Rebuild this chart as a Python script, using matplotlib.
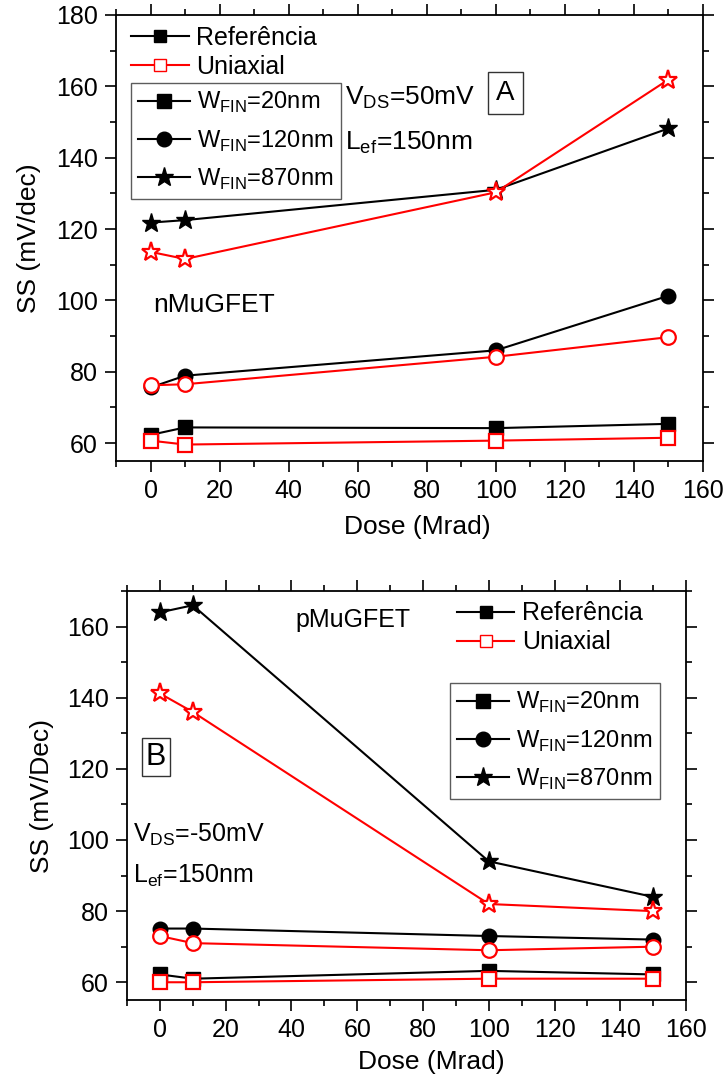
import matplotlib
matplotlib.use("Agg")
import matplotlib.pyplot as plt
from matplotlib.ticker import MultipleLocator
from matplotlib.lines import Line2D

plt.rcParams['font.family'] = ['Liberation Sans', 'DejaVu Sans']
plt.rcParams['mathtext.fontset'] = 'custom'
plt.rcParams['mathtext.rm'] = 'Liberation Sans'

# dose points (Mrad)
dose = [0, 10, 100, 150]

# nMuGFET (panel A)
n_ref_20 = [62.3, 64.4, 64.2, 65.4]
n_uni_20 = [60.7, 59.6, 60.7, 61.5]
n_ref_120 = [75.6, 78.9, 86.0, 101.3]
n_uni_120 = [76.2, 76.5, 84.2, 89.7]
n_ref_870 = [121.8, 122.5, 131.0, 148.2]
n_uni_870 = [113.6, 111.6, 130.3, 161.9]

# pMuGFET (panel B)
p_ref_20 = [62.2, 61.0, 63.2, 62.2]
p_uni_20 = [60.0, 60.0, 61.0, 61.0]
p_ref_120 = [75.1, 75.1, 73.0, 72.0]
p_uni_120 = [73.0, 71.0, 69.0, 70.0]
p_ref_870 = [164.0, 166.0, 94.0, 84.0]
p_uni_870 = [141.2, 136.0, 82.0, 80.0]

fin_labels = [r'W$_{\mathregular{FIN}}$=20nm', r'W$_{\mathregular{FIN}}$=120nm',
              r'W$_{\mathregular{FIN}}$=870nm']
markers = ['s', 'o', '*']
msizes = {'s': 9.5, 'o': 10.5, '*': 14}

FS = 17

fig = plt.figure(figsize=(7.27, 10.76), dpi=100)
axA = fig.add_axes([0.1596, 0.5716, 0.8074, 0.4145])
axB = fig.add_axes([0.1747, 0.0706, 0.7690, 0.3801])


def draw(ax, ref, uni):
    for r, u, m in zip(ref, uni, markers):
        ax.plot(dose, r, color='black', lw=1.5, marker=m, ms=msizes[m], mfc='black', mec='black', zorder=3)
        ax.plot(dose, u, color='red', lw=1.5, marker=m, ms=msizes[m], mfc='white', mec='red', mew=1.6, zorder=3)


def style(ax, ylim, ylabel, xlab_pos, ylab_pos):
    ax.set_xlim(-10, 160)
    ax.set_ylim(*ylim)
    ax.xaxis.set_major_locator(MultipleLocator(20))
    ax.xaxis.set_minor_locator(MultipleLocator(10))
    ax.yaxis.set_major_locator(MultipleLocator(20))
    ax.yaxis.set_minor_locator(MultipleLocator(10))
    ax.tick_params(which='both', direction='out', top=True, right=True, labelsize=FS + 1, width=1.2)
    ax.tick_params(which='major', length=8, pad=5)
    ax.tick_params(which='minor', length=4)
    for s in ax.spines.values():
        s.set_linewidth(1.3)
    ax.set_xlabel('Dose (Mrad)', fontsize=FS + 2)
    ax.set_ylabel(ylabel, fontsize=FS + 2)
    ax.xaxis.set_label_coords(*xlab_pos)
    ax.yaxis.set_label_coords(*ylab_pos)


def legends(ax, pos1, pos2):
    h1 = [Line2D([], [], color='black', lw=1.5, marker='s', ms=9),
          Line2D([], [], color='red', lw=1.5, marker='s', ms=9, mfc='white', mec='red')]
    l1 = ax.legend(h1, ['Referência', 'Uniaxial'], loc='upper left', bbox_to_anchor=pos1,
                   frameon=False, fontsize=FS + 1, handlelength=2.3, handletextpad=0.3,
                   labelspacing=0.2, borderpad=0.0, borderaxespad=0)
    ax.add_artist(l1)
    h2 = [Line2D([], [], color='black', lw=1.5, marker=m, ms=msizes[m]) for m in markers]
    l2 = ax.legend(h2, fin_labels, loc='upper left', bbox_to_anchor=pos2, frameon=True,
                   fancybox=False, edgecolor='#333333', fontsize=FS, handlelength=2.2,
                   handletextpad=0.3, labelspacing=0.55, borderpad=0.3, borderaxespad=0)
    l2.get_frame().set_linewidth(1.0)


draw(axA, [n_ref_20, n_ref_120, n_ref_870], [n_uni_20, n_uni_120, n_uni_870])
style(axA, (55, 180), 'SS (mV/dec)', (0.513, -0.121), (-0.128, 0.5))
legends(axA, (0.026, 0.975), (0.026, 0.847))
axA.text(0.390, 0.814, r'V$_{\mathregular{DS}}$=50mV', transform=axA.transAxes, fontsize=FS + 2, va='center')
axA.text(0.390, 0.713, r'L$_{\mathregular{ef}}$=150nm', transform=axA.transAxes, fontsize=FS + 2, va='center')
axA.text(0.663, 0.825, 'A', transform=axA.transAxes, fontsize=FS + 3, ha='center', va='center',
         bbox=dict(boxstyle='square,pad=0.3', fc='white', ec='#333333', lw=1.0))
axA.text(0.063, 0.350, 'nMuGFET', transform=axA.transAxes, fontsize=FS + 2, va='center')

draw(axB, [p_ref_20, p_ref_120, p_ref_870], [p_uni_20, p_uni_120, p_uni_870])
style(axB, (55, 170), 'SS (mV/Dec)', (0.544, -0.122), (-0.131, 0.5))
legends(axB, (0.590, 0.975), (0.578, 0.775))
axB.text(0.302, 0.929, 'pMuGFET', transform=axB.transAxes, fontsize=FS + 1, va='center')
axB.text(0.011, 0.403, r'V$_{\mathregular{DS}}$=-50mV', transform=axB.transAxes, fontsize=FS + 1, va='center')
axB.text(0.011, 0.303, r'L$_{\mathregular{ef}}$=150nm', transform=axB.transAxes, fontsize=FS + 1, va='center')
axB.text(0.052, 0.594, 'B', transform=axB.transAxes, fontsize=FS + 5, ha='center', va='center',
         bbox=dict(boxstyle='square,pad=0.12', fc='white', ec='#333333', lw=1.0))

fig.savefig('out.png', dpi=100)
